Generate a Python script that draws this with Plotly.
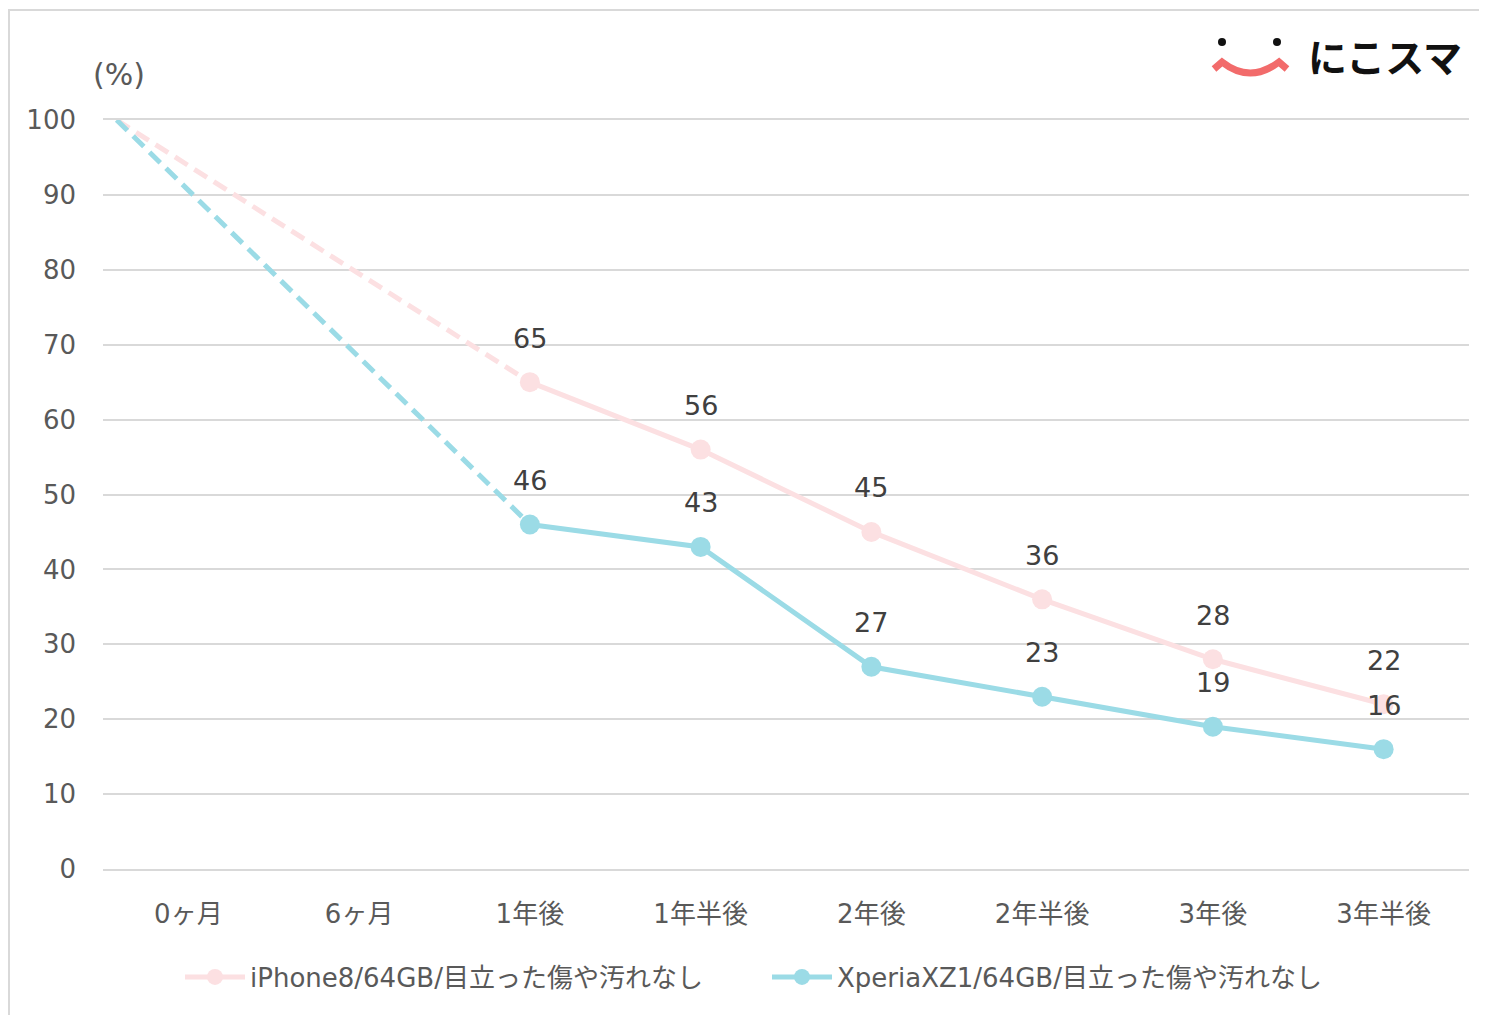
import plotly.graph_objects as go

# ---- data ----
categories = ["0ヶ月", "6ヶ月", "1年後", "1年半後", "2年後", "2年半後", "3年後", "3年半後"]
iphone_name = "iPhone8/64GB/目立った傷や汚れなし"
xperia_name = "XperiaXZ1/64GB/目立った傷や汚れなし"
solid_idx = [2, 3, 4, 5, 6, 7]
iphone_vals = [65, 56, 45, 36, 28, 22]
xperia_vals = [46, 43, 27, 23, 19, 16]
dash_x = [-0.42, 2]
iphone_dash = [100, 65]
xperia_dash = [100, 46]
y_ticks = [0, 10, 20, 30, 40, 50, 60, 70, 80, 90, 100]

PINK = "rgb(252,224,226)"
BLUE = "rgb(155,219,230)"
FONT = "DejaVu Sans, Noto Sans CJK JP, sans-serif"
OFF = 8  # page body margin
W, H = 1487 - OFF, 1015 - OFF
L, R, T, B = 103, 1469, 120, 869  # plot area in screen pixels


def px(x):
    return (x - L) / (R - L)


def py(y):
    return (B - y) / (B - T)


fig = go.Figure()
fig.add_trace(go.Scatter(x=dash_x, y=iphone_dash, mode="lines",
                         line=dict(color=PINK, width=5, dash="15px,8px"),
                         showlegend=False, hoverinfo="skip"))
fig.add_trace(go.Scatter(x=dash_x, y=xperia_dash, mode="lines",
                         line=dict(color=BLUE, width=5, dash="15px,8px"),
                         showlegend=False, hoverinfo="skip"))
fig.add_trace(go.Scatter(x=solid_idx, y=iphone_vals, mode="lines+markers", name=iphone_name,
                         line=dict(color=PINK, width=5), marker=dict(color=PINK, size=20)))
fig.add_trace(go.Scatter(x=solid_idx, y=xperia_vals, mode="lines+markers", name=xperia_name,
                         line=dict(color=BLUE, width=5), marker=dict(color=BLUE, size=20)))

annotations = []
for xs, ys in ((solid_idx, iphone_vals), (solid_idx, xperia_vals)):
    for xv, yv in zip(xs, ys):
        annotations.append(dict(x=xv, y=yv, text=str(yv), showarrow=False, yshift=44,
                                font=dict(family=FONT, size=27, color="#404040")))

annotations.append(dict(x=px(119), y=py(75), xref="paper", yref="paper", text="(%)",
                        xanchor="center", yanchor="middle",
                        showarrow=False, font=dict(family=FONT, size=30, color="#595959")))
annotations.append(dict(x=px(1385), y=py(55), xref="paper", yref="paper", text="<b>にこスマ</b>",
                        xanchor="center", yanchor="middle",
                        showarrow=False, font=dict(family="Noto Sans CJK JP", size=39, color="#111111")))

shapes = [
    dict(type="rect", xref="paper", yref="paper", x0=px(9), x1=px(1500), y0=py(10), y1=py(1030),
         line=dict(color="#D9D9D9", width=2), fillcolor="rgba(0,0,0,0)", layer="below"),
    dict(type="circle", xref="paper", yref="paper", x0=px(1218), x1=px(1226), y0=py(38), y1=py(46),
         fillcolor="#111111", line=dict(width=0)),
    dict(type="circle", xref="paper", yref="paper", x0=px(1273), x1=px(1281), y0=py(38), y1=py(46),
         fillcolor="#111111", line=dict(width=0)),
    dict(type="path", xref="paper", yref="paper",
         path=f"M {px(1214)},{py(69)} L {px(1222)},{py(62)} Q {px(1250)},{py(84)} {px(1279)},{py(62)} L {px(1287)},{py(69)}",
         line=dict(color="#F26B6B", width=7), fillcolor="rgba(0,0,0,0)"),
]

fig.update_layout(
    width=W, height=H,
    margin=dict(l=L - OFF, r=1487 - R, t=T - OFF, b=1015 - B, pad=0),
    paper_bgcolor="white", plot_bgcolor="white",
    font=dict(family=FONT, size=26, color="#595959"),
    xaxis=dict(range=[-0.5, 7.5], tickmode="array", tickvals=list(range(len(categories))),
               ticktext=categories, showgrid=False, zeroline=False,
               showline=True, mirror=True, linecolor="#D9D9D9", linewidth=1.5,
               ticks="", ticklabelstandoff=21, tickfont=dict(size=26, color="#595959")),
    yaxis=dict(range=[0, 100], tickvals=y_ticks, showgrid=True, gridcolor="#D9D9D9", gridwidth=1.5,
               zeroline=False, showline=False, ticks="", ticklabelstandoff=26,
               tickfont=dict(size=26, color="#595959")),
    legend=dict(orientation="h", x=px(767), xanchor="center", y=py(977), yanchor="middle",
                font=dict(size=26, color="#595959"), itemwidth=60, entrywidth=512,
                tracegroupgap=0),
    annotations=annotations,
    shapes=shapes,
    showlegend=True,
)

fig.write_html("out.html")
